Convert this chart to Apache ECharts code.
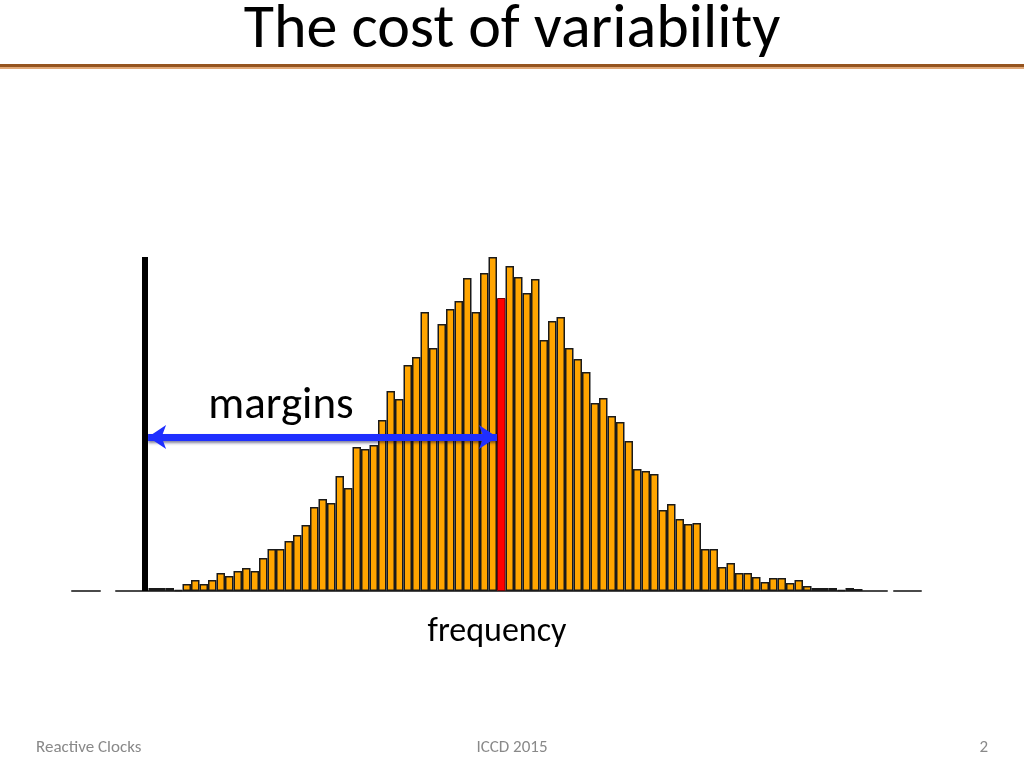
<!DOCTYPE html>
<html><head><meta charset="utf-8">
<script src="https://cdn.jsdelivr.net/npm/echarts@6/dist/echarts.min.js"></script>
<style>html,body{margin:0;padding:0;background:#fff}#c{width:1024px;height:768px}</style>
</head><body><div id="c"></div>
<script>
// Histogram bin counts (left to right)
const counts = [3,3,3,1,7,11,7,11,18,15,
  20,23,20,33,42,42,50,56,66,84,
  92,88,115,103,144,142,146,171,200,192,
  226,234,279,243,267,282,290,313,279,318,
  334,293,325,314,298,312,251,270,274,243,
  232,219,188,193,175,169,150,122,120,117,
  81,87,72,67,68,42,42,24,28,18,
  18,14,9,13,13,8,11,5,3,3,
  3,1,3,2];
const binIds = counts.map((_, i) => i + 1);
const redBin = 42;          // highlighted bin
const wallX = 0;            // black limit line position (bin units)
const arrowFrom = 0.45;     // arrow start (bin units)
const arrowTo = 41.5;       // arrow end (bin units)
const arrowLevel = 154;     // arrow height (count units)
const titleText = 'The cost of variability';
const arrowText = 'margins';
const axisText = 'frequency';
const footerLeft = 'Reactive Clocks';
const footerMid = 'ICCD 2015';
const footerRight = '2';

const F = 'Carlito, Lato, "Open Sans", sans-serif';
const chart = echarts.init(document.getElementById('c'), null, {renderer: 'canvas'});
chart.setOption({
  animation: false,
  backgroundColor: '#fff',
  grid: {left: 72, right: 102, top: 257, bottom: 177},
  xAxis: {
    type: 'value', min: -8.5, max: 91.5,
    axisLine: {show: true, onZero: false, lineStyle: {color: '#4a4a4a', width: 2, type: [28, 16, 771, 7, 27, 100]}},
    axisTick: {show: false}, axisLabel: {show: false}, splitLine: {show: false},
    name: axisText, nameLocation: 'middle', nameGap: 24,
    nameTextStyle: {fontFamily: F, fontSize: 34, color: '#000'}
  },
  yAxis: {type: 'value', min: 0, max: 334, show: false},
  series: [{
    type: 'bar',
    barWidth: 8.5,
    itemStyle: {color: '#ffa500', borderColor: '#1a1a1a', borderWidth: 1.5},
    data: binIds.map((b, i) => b === redBin
      ? {value: [b, counts[i]], itemStyle: {color: '#ff0000', borderColor: '#7a0000', borderWidth: 1}}
      : {value: [b, counts[i]]}),
    markLine: {
      silent: true, animation: false,
      label: {show: false},
      symbol: ['none', 'none'], symbolSize: 18,
      lineStyle: {color: '#000', width: 6, type: 'solid', opacity: 1},
      data: [
        {xAxis: wallX, lineStyle: {color: '#000', width: 6, type: 'solid'}},
        [{coord: [arrowFrom, arrowLevel], symbol: 'arrow', symbolSize: 18,
          lineStyle: {color: '#1f2fff', width: 7, type: 'solid', shadowColor: 'rgba(0,0,60,0.5)', shadowBlur: 3, shadowOffsetY: 2}},
         {coord: [arrowTo, arrowLevel], symbol: 'arrow', symbolSize: 18}]
      ]
    }
  }],
  graphic: [
    {type: 'rect', shape: {x: 0, y: 64, width: 1024, height: 3}, style: {fill: '#95541f'}},
    {type: 'rect', shape: {x: 0, y: 67, width: 1024, height: 2}, style: {fill: '#e0a878'}},
    {type: 'text', x: 512, y: 31, style: {text: titleText, font: '62px ' + F, fill: '#000', align: 'center', verticalAlign: 'middle'}},
    {type: 'text', x: 281, y: 407, style: {text: arrowText, font: '45px ' + F, fill: '#000', align: 'center', verticalAlign: 'middle'}},
    {type: 'text', x: 36, y: 748, style: {text: footerLeft, font: '17px ' + F, fill: '#898989', align: 'left', verticalAlign: 'middle'}},
    {type: 'text', x: 512, y: 748, style: {text: footerMid, font: '17px ' + F, fill: '#898989', align: 'center', verticalAlign: 'middle'}},
    {type: 'text', x: 988, y: 748, style: {text: footerRight, font: '17px ' + F, fill: '#898989', align: 'right', verticalAlign: 'middle'}}
  ]
});
</script></body></html>
